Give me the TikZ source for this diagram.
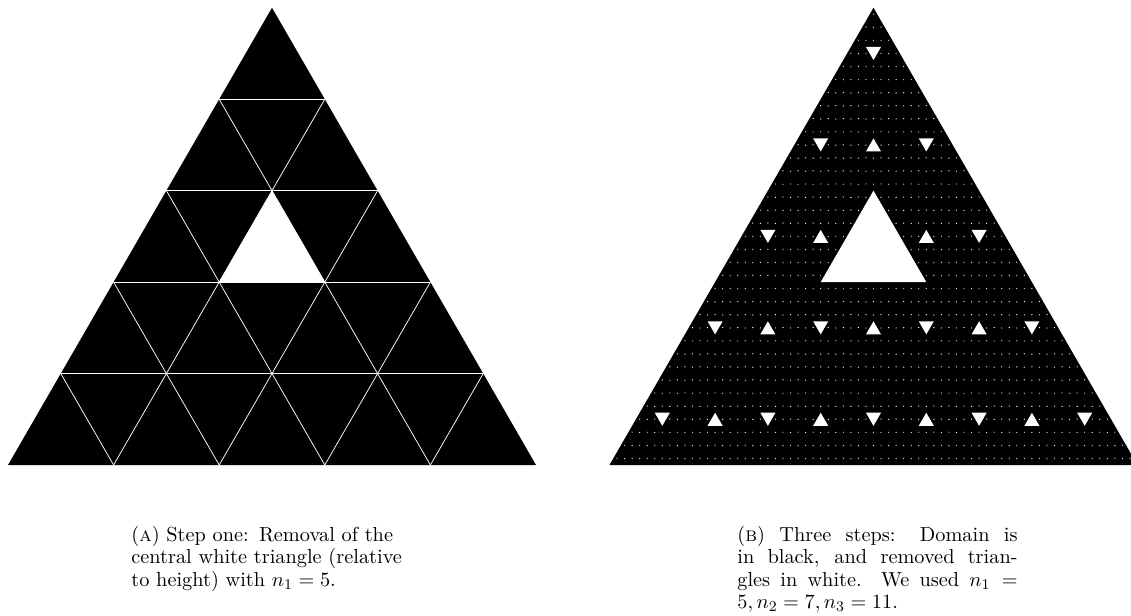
\documentclass[tikz,border=0pt]{standalone}

% white hole, centred at mid-height: x, y, side, orientation (1 up, -1 down)
\newcommand{\wtri}[4]{%
    \fill[white] ({#1},{#2+(#4)*#3*0.4330127})
        -- ++({-#3/2},{-(#4)*#3*0.8660254})
        -- ++({#3},0) -- cycle;}

\begin{document}
\begin{tikzpicture}[
        grid/.style={white, line width=0.4pt},
        captext/.style={inner sep=0pt, text width=151pt, anchor=north west,
            font=\fontsize{10.95}{12.1}\selectfont}]
    \useasboundingbox (-0.1515,-2.841) rectangle (21.269,8.807);

        % (a) Step one
        \fill (0,0) -- (10,0) -- (5,8.660254) -- cycle;
        \foreach \i in {1,...,4}{
            \draw[grid] ({\i},{\i*1.7320508}) -- ({10-\i},{\i*1.7320508});
            \draw[grid] ({2*\i},0) -- ({5+\i},{(10-2*\i)*0.8660254});
            \draw[grid] ({2*\i},0) -- ({\i},{2*\i*0.8660254});
        }
        % central white triangle
        \fill[white] (5,5.196152) -- (4,3.464102) -- (6,3.464102) -- cycle;

        % (b) Three steps
        \begin{scope}[xshift=11.392cm]
        \fill (0,0) -- (10,0) -- (5,8.660254) -- cycle;
        % n_3 = 11
        \foreach \row in {0,...,34}{
            \pgfmathtruncatemacro\last{2*\row}
            \foreach \col in {0,...,\last}{
                \pgfmathsetmacro\ori{ifthenelse(mod(\col,2)==0,-1,1)}
                \wtri{5+(\col-\row)*0.142857}{8.660254-(\row+0.5)*0.2474358}{0.025974}{\ori}
            }
        }
        % n_2 = 7
        \foreach \row in {0,...,4}{
            \pgfmathtruncatemacro\last{2*\row}
            \foreach \col in {0,...,\last}{
                \pgfmathsetmacro\ori{ifthenelse(mod(\col,2)==0,-1,1)}
                \wtri{5+(\col-\row)}{8.660254-(\row+0.5)*1.7320508}{0.285714}{\ori}
            }
        }
        % n_1 = 5
        \fill[white] (5,5.196152) -- (4,3.464102) -- (6,3.464102) -- cycle;
        \end{scope}

        % captions
        \node[captext, align=left] (capa) at (2.33,-1.15)
            {(\textsc{a}) Step one: Removal of the central white triangle (relative to height) with $n_1 = 5$.};
        \node[captext, align=justify] (capb) at (13.807,-1.15)
            {(\textsc{b}) Three steps: Domain is\linebreak in black, and removed trian-\linebreak gles in white. We used $n_1 =$\linebreak $5, n_2 = 7, n_3 = 11$.};
    \end{tikzpicture}
\end{document}
